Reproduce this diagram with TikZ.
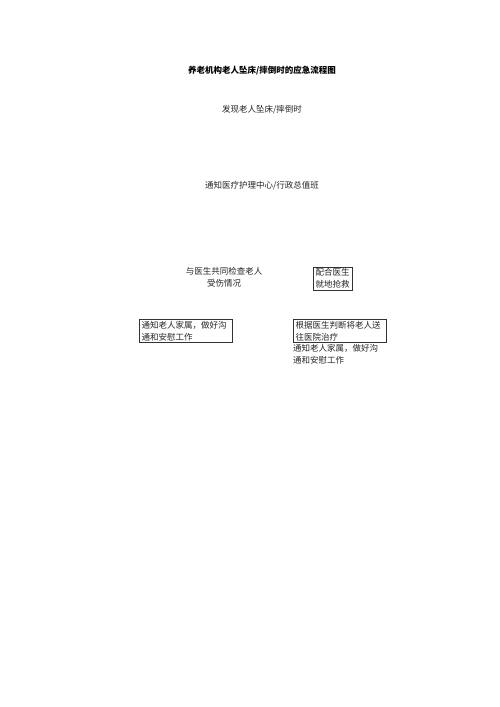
\documentclass[tikz,border=0pt]{standalone}
\usepackage{fontspec}
\setmainfont{Noto Sans CJK SC}
\newfontfamily\cjkbold{Noto Sans CJK SC}[BoldFont={* Bold}]
\begin{document}
\begin{tikzpicture}[x=1pt,y=-1pt,
  txt/.style={inner sep=0pt,font=\fontsize{8.5}{12}\selectfont,text=black!85},
  boxed/.style={txt,draw=black!80,line width=0.6pt,inner xsep=2.5pt,inner ysep=1.5pt,align=left},
  ttl/.style={inner sep=0pt,font=\fontsize{8.5}{12}\selectfont\bfseries}]
\useasboundingbox (0,0) rectangle (500,707);
\fill[white] (0,0) rectangle (500,707);
\node[ttl] (title) at (262,71) {养老机构老人坠床/摔倒时的应急流程图};
\node[txt] (found) at (262,110) {发现老人坠床/摔倒时};
\node[txt] (notify) at (262,186) {通知医疗护理中心/行政总值班};
\node[txt,align=center] (check) at (224,277) {与医生共同检查老人\\受伤情况};
\node[boxed] (rescue) at (332.5,278.5) {配合医生\\就地抢救};
\node[boxed,text width=88pt] (family) at (185.5,331) {通知老人家属，做好沟\\通和安慰工作};
\node[boxed,text width=88pt] (hospital) at (339.5,331) {根据医生判断将老人送\\往医院治疗};
\node[txt,align=left,anchor=north west] (family2) at (293,344.5) {通知老人家属，做好沟\\通和安慰工作};
\end{tikzpicture}
\end{document}
